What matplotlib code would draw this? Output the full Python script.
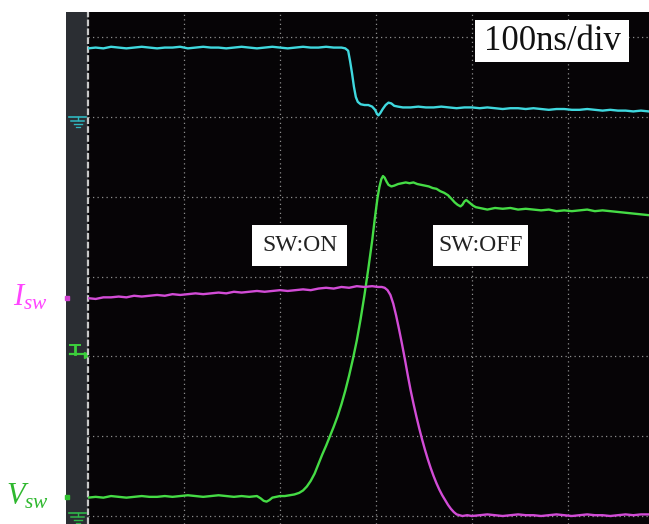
import matplotlib
matplotlib.use("Agg")
import matplotlib.pyplot as plt
from matplotlib.patches import Rectangle

plt.rcParams['mathtext.fontset'] = 'custom'
plt.rcParams['mathtext.it'] = 'Liberation Serif:italic'
plt.rcParams['mathtext.rm'] = 'Liberation Serif'

# Scope traces: (time in ns, level in divisions above the bottom graticule line)
GATE = [(0, 5.86), (8, 5.87), (16, 5.86), (24, 5.88), (32, 5.87), (40, 5.86), (48, 5.87),
        (56, 5.88), (64, 5.87), (72, 5.86), (80, 5.87), (88, 5.87), (96, 5.88), (104, 5.86),
        (112, 5.87), (120, 5.88), (128, 5.87), (136, 5.87), (144, 5.86), (152, 5.87),
        (160, 5.88), (168, 5.87), (176, 5.86), (184, 5.87), (192, 5.88), (200, 5.87),
        (208, 5.86), (216, 5.87), (224, 5.88), (232, 5.87), (240, 5.87), (248, 5.88),
        (256, 5.87), (264, 5.87), (268, 5.86), (271, 5.83), (273, 5.70), (275, 5.55),
        (277, 5.38), (279, 5.25), (281, 5.19), (284, 5.16), (288, 5.15), (292, 5.15),
        (296, 5.13), (299, 5.09), (301, 5.04), (302.5, 5.02), (304.5, 5.05), (307, 5.10),
        (310, 5.15), (313, 5.18), (316, 5.17), (319, 5.14), (323, 5.13), (328, 5.12),
        (336, 5.12), (344, 5.13), (352, 5.12), (360, 5.12), (368, 5.13), (376, 5.12),
        (384, 5.11), (392, 5.12), (400, 5.12), (408, 5.11), (416, 5.12), (424, 5.11),
        (432, 5.10), (440, 5.11), (448, 5.11), (456, 5.10), (464, 5.11), (472, 5.10),
        (480, 5.09), (488, 5.10), (496, 5.10), (504, 5.09), (512, 5.09), (520, 5.10),
        (528, 5.09), (536, 5.08), (544, 5.09), (552, 5.08), (560, 5.08), (568, 5.07),
        (576, 5.08), (584, 5.07)]

VSW = [(0, 0.23), (8, 0.24), (16, 0.23), (24, 0.25), (32, 0.24), (40, 0.23), (48, 0.24),
       (56, 0.25), (64, 0.24), (72, 0.24), (80, 0.25), (88, 0.24), (96, 0.25), (104, 0.26),
       (112, 0.25), (120, 0.24), (128, 0.25), (136, 0.26), (144, 0.25), (152, 0.24),
       (160, 0.25), (168, 0.24), (176, 0.25), (180, 0.22), (183, 0.19), (186, 0.18),
       (189, 0.20), (192, 0.23), (196, 0.24), (200, 0.25), (205, 0.25), (210, 0.26),
       (215, 0.27), (220, 0.29), (224, 0.32), (228, 0.37), (232, 0.44), (236, 0.53),
       (240, 0.65), (244, 0.77), (248, 0.88), (252, 1.00), (256, 1.12), (260, 1.25),
       (264, 1.40), (268, 1.57), (272, 1.76), (276, 1.97), (280, 2.20), (284, 2.47),
       (288, 2.77), (292, 3.10), (296, 3.45), (299, 3.75), (301.5, 3.98), (303.5, 4.12),
       (305.5, 4.22), (307.3, 4.26), (309, 4.24), (311, 4.19), (313, 4.15), (316, 4.13),
       (319, 4.14), (323, 4.16), (327, 4.17), (331, 4.18), (335, 4.17), (339, 4.18),
       (343, 4.16), (347, 4.15), (351, 4.14), (355, 4.13), (359, 4.11), (363, 4.10),
       (367, 4.07), (371, 4.05), (375, 4.02), (379, 3.97), (382, 3.93), (385, 3.90),
       (388, 3.88), (390, 3.90), (392, 3.94), (394, 3.96), (396, 3.94), (398, 3.92),
       (401, 3.89), (404, 3.87), (408, 3.86), (412, 3.85), (416, 3.84), (424, 3.86),
       (432, 3.85), (440, 3.86), (448, 3.84), (456, 3.85), (464, 3.84), (472, 3.83),
       (480, 3.84), (488, 3.82), (496, 3.83), (504, 3.82), (512, 3.83), (520, 3.84),
       (528, 3.82), (536, 3.83), (544, 3.82), (552, 3.81), (560, 3.80), (568, 3.79),
       (576, 3.78), (584, 3.77)]

ISW = [(0, 2.73), (8, 2.72), (16, 2.74), (24, 2.74), (32, 2.75), (40, 2.74), (48, 2.76),
       (56, 2.75), (64, 2.76), (72, 2.77), (80, 2.76), (88, 2.78), (96, 2.77), (104, 2.78),
       (112, 2.79), (120, 2.78), (128, 2.79), (136, 2.80), (144, 2.79), (152, 2.81),
       (160, 2.80), (168, 2.81), (176, 2.82), (184, 2.81), (192, 2.82), (200, 2.83),
       (208, 2.82), (216, 2.83), (224, 2.84), (232, 2.83), (240, 2.85), (248, 2.86),
       (256, 2.85), (264, 2.87), (272, 2.86), (280, 2.88), (288, 2.87), (296, 2.88),
       (302, 2.87), (306, 2.87), (309, 2.86), (312, 2.83), (315, 2.77), (318, 2.66),
       (321, 2.51), (324, 2.34), (327, 2.16), (330, 1.97), (333, 1.77), (336, 1.58),
       (339, 1.41), (342, 1.25), (345, 1.10), (348, 0.96), (351, 0.83), (354, 0.71),
       (357, 0.60), (360, 0.50), (363, 0.41), (366, 0.33), (369, 0.26), (372, 0.20),
       (375, 0.14), (378, 0.09), (381, 0.05), (384, 0.02), (387, 0.01), (390, 0.00),
       (395, 0.01), (400, 0.00), (408, 0.01), (416, 0.02), (424, 0.01), (432, 0.00),
       (440, 0.01), (448, 0.02), (456, 0.01), (464, 0.01), (472, 0.00), (480, 0.01),
       (488, 0.02), (496, 0.01), (504, 0.00), (512, 0.01), (520, 0.02), (528, 0.01),
       (536, 0.01), (544, 0.00), (552, 0.01), (560, 0.02), (568, 0.01), (576, 0.02),
       (584, 0.02)]

TIME_DIVS = [0, 100, 200, 300, 400, 500]
LEVEL_DIVS = [0, 1, 2, 3, 4, 5, 6]

W, H = 649, 524
fig = plt.figure(figsize=(W / 100, H / 100), dpi=100)
fig.patch.set_facecolor('white')

def fx(px):
    return px / W

def fy(py):
    return 1 - py / H

# Side strip with channel markers (pixel coordinates)
strip = fig.add_axes([fx(66), 0, fx(88) - fx(66), fy(12)])
strip.set_facecolor('#2b2e33')
strip.set_xlim(66, 88)
strip.set_ylim(524, 12)
strip.set_xticks([])
strip.set_yticks([])
for s in strip.spines.values():
    s.set_visible(False)

def ground(ax, y, color):
    ax.plot([69, 86], [y, y], color=color, lw=1.2)
    ax.plot([77.5, 77.5], [y, y + 3], color=color, lw=1.0)
    ax.plot([71, 84], [y + 3.5, y + 3.5], color=color, lw=1.1)
    ax.plot([73.5, 81.5], [y + 7, y + 7], color=color, lw=1.0)
    ax.plot([75.5, 79.5], [y + 10, y + 10], color=color, lw=0.9)

ground(strip, 117, '#2fb8c0')
ground(strip, 513, '#2fb84a')
# trigger level marker
strip.plot([70, 80], [345, 345], color='#3ccf3c', lw=1.4)
strip.plot([75, 75], [345, 354], color='#3ccf3c', lw=2.0)
strip.plot([70, 84], [354, 354], color='#3ccf3c', lw=1.6)
strip.plot([86.5], [355], marker='>', color='#3ccf3c', ms=5, clip_on=False)
strip.plot([66.8], [298], marker='s', color='#d040d0', ms=2.5, clip_on=False)
strip.plot([66.8], [497], marker='s', color='#30c030', ms=2.5, clip_on=False)

# Main scope screen
ax = fig.add_axes([fx(88), 0, 1 - fx(88), fy(12)])
ax.set_facecolor('#060406')
ax.set_xlim(0, (W - 88) / 0.96)
ax.set_ylim((516 - 524) / 79.8, (516 - 12) / 79.8)
ax.set_xticks([])
ax.set_yticks([])
for s in ax.spines.values():
    s.set_visible(False)

grid_kw = dict(color='#8c8c8c', lw=0.9, linestyle=(0, (1, 2.6)), zorder=1)
for t in TIME_DIVS[1:]:
    ax.axvline(t, **grid_kw)
for v in LEVEL_DIVS:
    ax.axhline(v, **grid_kw)
ax.axvline(0, color='#c8c8c8', lw=1.6, linestyle=(0, (3, 1)), zorder=1, clip_on=False)

def trace(data, color):
    t = [p[0] for p in data]
    v = [p[1] for p in data]
    ax.plot(t, v, color=color, lw=1.7, zorder=3, solid_joinstyle='round')

trace(GATE, '#3fd8de')
trace(VSW, '#45dc45')
trace(ISW, '#d24cd6')

# White annotation boxes (pixel geometry: left, top, right, bottom)
def label_box(x0, y0, x1, y1, text, size, color):
    fig.add_artist(Rectangle((fx(x0), fy(y1)), fx(x1) - fx(x0), fy(y0) - fy(y1),
                             transform=fig.transFigure, facecolor='white',
                             edgecolor='none', zorder=5))
    fig.text(fx((x0 + x1) / 2), fy((y0 + y1) / 2), text, fontsize=size,
             family='Liberation Serif', ha='center', va='center', color=color, zorder=6)

label_box(475, 20, 629, 62, '100ns/div', 25, '#111111')
label_box(252, 225, 347, 266, 'SW:ON', 17, '#222222')
label_box(433, 225, 528, 266, 'SW:OFF', 17, '#222222')

fig.text(fx(30), fy(297), r'$I_{sw}$', fontsize=22, color='#ff45ff', ha='center', va='center')
fig.text(fx(28), fy(496), r'$V_{sw}$', fontsize=22, color='#2fb82f', ha='center', va='center')

fig.savefig('out.png', dpi=100, facecolor='white')
